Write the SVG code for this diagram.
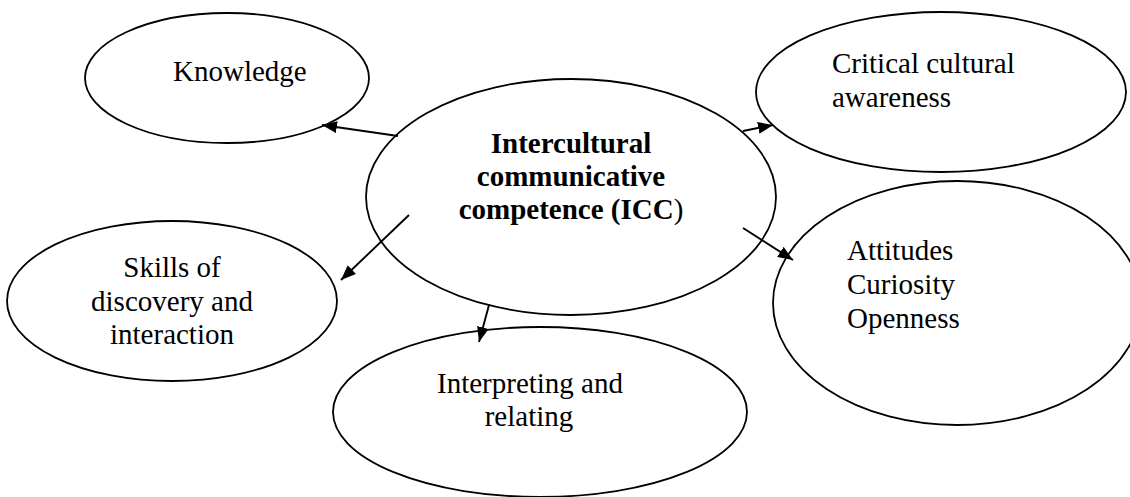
<svg xmlns="http://www.w3.org/2000/svg" width="1130" height="497" viewBox="0 0 1130 497">
<style>
.node ellipse{fill:#fff;stroke:#000;stroke-width:1.8}
text{font-family:"Liberation Serif","Times New Roman",serif;font-size:29px;fill:#000}
.c{text-anchor:middle}
.b{font-weight:bold}
.conn line{stroke:#000;stroke-width:1.9;marker-end:url(#ah)}
</style>
<defs>
<marker id="ah" markerUnits="userSpaceOnUse" markerWidth="15" markerHeight="12" refX="15" refY="6" orient="auto">
<path d="M0,0 L15,6 L0,12 z" fill="#000"/>
</marker>
</defs>
<rect width="1130" height="497" fill="#fff"/>
<g id="knowledge" class="node">
<ellipse cx="227" cy="78" rx="142" ry="65"/>
<text x="173" y="81">Knowledge</text>
</g>
<g id="critical" class="node">
<ellipse cx="941" cy="92" rx="185" ry="80"/>
<text x="832" y="73">Critical cultural</text>
<text x="832" y="107">awareness</text>
</g>
<g id="attitudes" class="node">
<ellipse cx="957" cy="303" rx="184" ry="122"/>
<text x="847" y="260">Attitudes</text>
<text x="847" y="294">Curiosity</text>
<text x="847" y="328">Openness</text>
</g>
<g id="skills" class="node">
<ellipse cx="172" cy="301" rx="165" ry="80"/>
<text class="c" x="172" y="277">Skills of</text>
<text class="c" x="172" y="311">discovery and</text>
<text class="c" x="172" y="344">interaction</text>
</g>
<g id="interpreting" class="node">
<ellipse cx="540" cy="412" rx="207" ry="85"/>
<text class="c" x="530" y="393">Interpreting and</text>
<text class="c" x="529" y="426">relating</text>
</g>
<g id="icc" class="node">
<ellipse cx="571" cy="197" rx="205" ry="118"/>
<text class="c b" x="571" y="153">Intercultural</text>
<text class="c b" x="571" y="186">communicative</text>
<text class="c" x="571" y="219"><tspan class="b">competence (ICC</tspan>)</text>
</g>
<g id="connectors" class="conn">
<line x1="398" y1="136" x2="322" y2="125"/>
<line x1="743" y1="131" x2="773" y2="125"/>
<line x1="409" y1="215" x2="341" y2="280"/>
<line x1="743" y1="228" x2="793" y2="260"/>
<line x1="489" y1="305" x2="479" y2="342"/>
</g>
</svg>
